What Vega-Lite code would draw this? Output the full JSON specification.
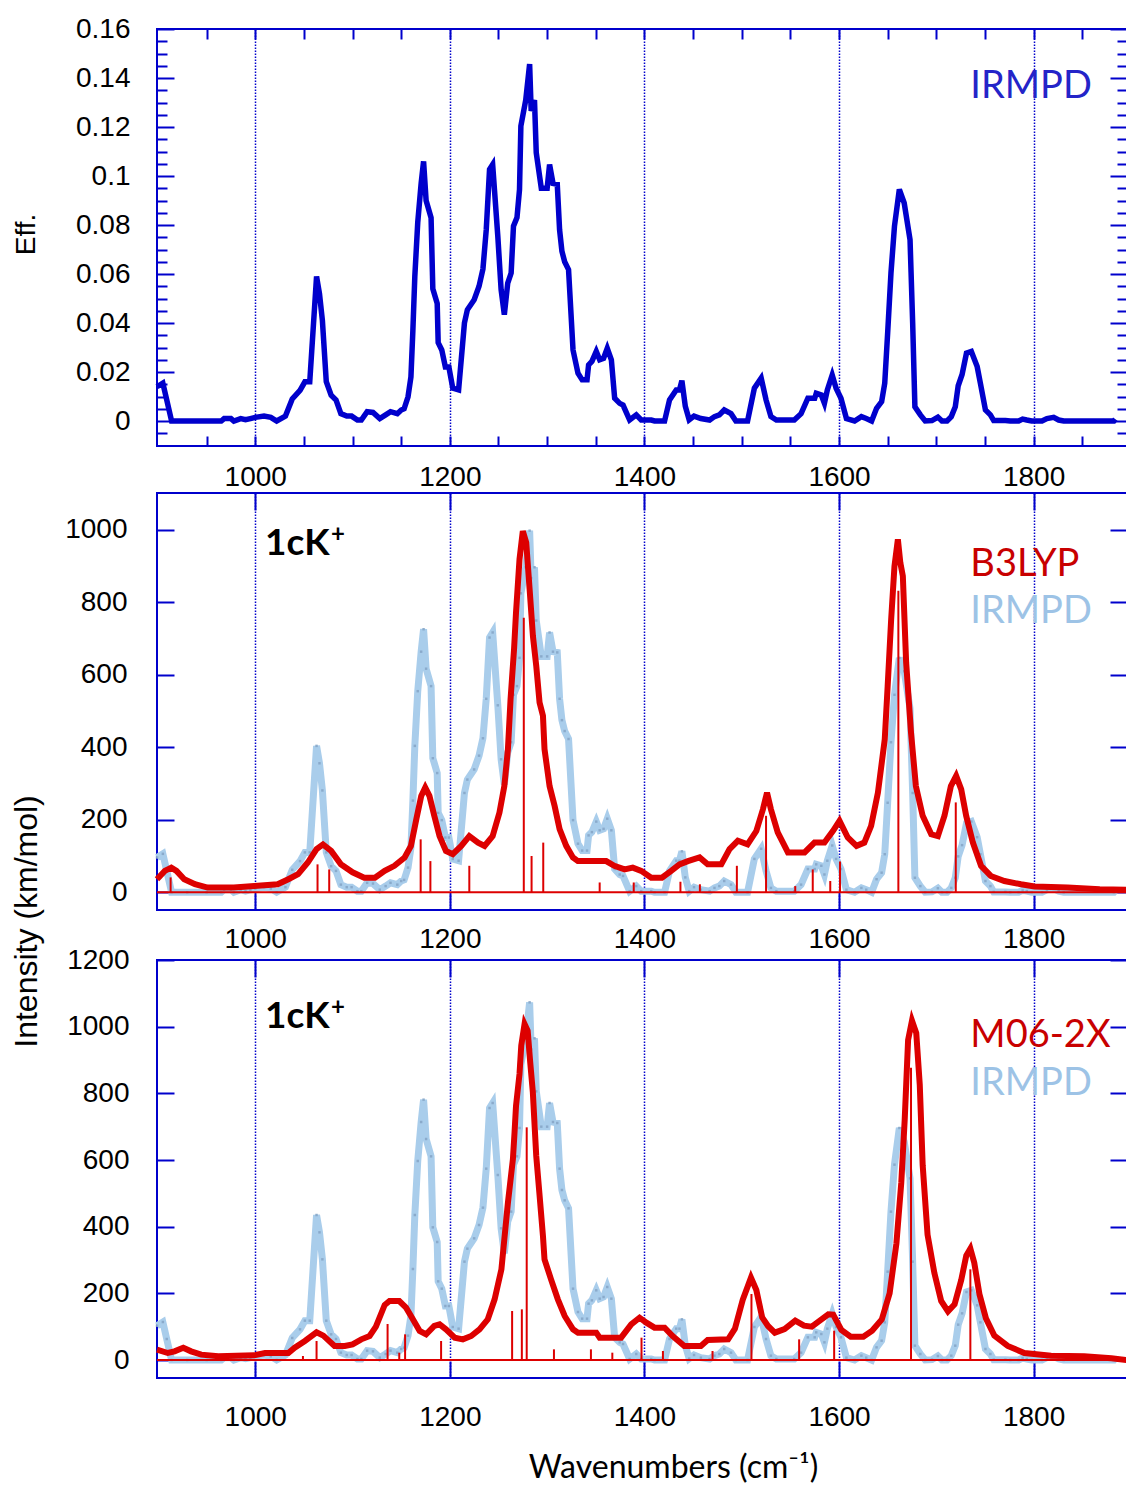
{
"$schema": "https://vega.github.io/schema/vega-lite/v6.json",
"background": "white",
"padding": {"left": 9, "top": 14, "right": 0, "bottom": 0},
"bounds": "flush",
"spacing": 47,
"config": {
  "view": {"stroke": "#0000cc", "strokeWidth": 2},
  "axis": {"domain": false, "grid": false, "labelFont": "Liberation Sans", "labelFontSize": 28, "labelColor": "#000000", "tickColor": "#0000cc", "tickWidth": 2, "gridColor": "#0000cc", "gridDash": [1.5, 1.5], "gridWidth": 1.5, "titleFont": "Liberation Sans", "titleFontSize": 28, "titleFontWeight": "normal", "titleColor": "#000000", "labelOverlap": false, "labelFlush": false, "labelBound": false}
},
"datasets": {
"ir": [
{"wn":899,"eff":0.014,"b3":96,"m06":103},{"wn":905,"eff":0.0155,"b3":106,"m06":114},{"wn":909,"eff":0.0086,"b3":59,"m06":63},{"wn":914,"eff":0,"b3":0,"m06":0},{"wn":930,"eff":0,"b3":0,"m06":0},{"wn":950,"eff":0,"b3":0,"m06":0},{"wn":965,"eff":0,"b3":0,"m06":0},{"wn":968,"eff":0.001,"b3":7,"m06":7},{"wn":975,"eff":0.001,"b3":7,"m06":7},{"wn":978,"eff":0,"b3":0,"m06":0},{"wn":985,"eff":0.001,"b3":7,"m06":7},{"wn":990,"eff":0.0005,"b3":3,"m06":4},{"wn":995,"eff":0.001,"b3":7,"m06":7},{"wn":1000,"eff":0.0015,"b3":10,"m06":11},{"wn":1009,"eff":0.002,"b3":14,"m06":15},{"wn":1016,"eff":0.0015,"b3":10,"m06":11},{"wn":1022,"eff":0,"b3":0,"m06":0},{"wn":1031,"eff":0.002,"b3":14,"m06":15},{"wn":1038,"eff":0.009,"b3":62,"m06":66},{"wn":1046,"eff":0.0125,"b3":86,"m06":92},{"wn":1051,"eff":0.016,"b3":110,"m06":118},{"wn":1056,"eff":0.016,"b3":110,"m06":118},{"wn":1063,"eff":0.059,"b3":404,"m06":435},{"wn":1066,"eff":0.052,"b3":356,"m06":383},{"wn":1069,"eff":0.041,"b3":281,"m06":302},{"wn":1073,"eff":0.016,"b3":110,"m06":118},{"wn":1078,"eff":0.0105,"b3":72,"m06":77},{"wn":1083,"eff":0.0086,"b3":59,"m06":63},{"wn":1088,"eff":0.003,"b3":21,"m06":22},{"wn":1094,"eff":0.002,"b3":14,"m06":15},{"wn":1099,"eff":0.002,"b3":14,"m06":15},{"wn":1105,"eff":0.0004,"b3":3,"m06":3},{"wn":1109,"eff":0.0004,"b3":3,"m06":3},{"wn":1115,"eff":0.0038,"b3":26,"m06":28},{"wn":1121,"eff":0.0035,"b3":24,"m06":26},{"wn":1128,"eff":0.001,"b3":7,"m06":7},{"wn":1134,"eff":0.0025,"b3":17,"m06":18},{"wn":1139,"eff":0.0038,"b3":26,"m06":28},{"wn":1146,"eff":0.003,"b3":21,"m06":22},{"wn":1150,"eff":0.0045,"b3":31,"m06":33},{"wn":1153,"eff":0.005,"b3":34,"m06":37},{"wn":1157,"eff":0.0099,"b3":68,"m06":73},{"wn":1160,"eff":0.018,"b3":123,"m06":133},{"wn":1162,"eff":0.037,"b3":253,"m06":273},{"wn":1164,"eff":0.059,"b3":404,"m06":435},{"wn":1167,"eff":0.081,"b3":555,"m06":597},{"wn":1170.5,"eff":0.097,"b3":664,"m06":714},{"wn":1173,"eff":0.106,"b3":726,"m06":781},{"wn":1175.6,"eff":0.09,"b3":617,"m06":663},{"wn":1180.7,"eff":0.083,"b3":569,"m06":611},{"wn":1182.5,"eff":0.054,"b3":370,"m06":398},{"wn":1187,"eff":0.048,"b3":329,"m06":354},{"wn":1188,"eff":0.032,"b3":219,"m06":236},{"wn":1191.7,"eff":0.029,"b3":199,"m06":214},{"wn":1195.4,"eff":0.022,"b3":151,"m06":162},{"wn":1199,"eff":0.022,"b3":151,"m06":162},{"wn":1203,"eff":0.0134,"b3":92,"m06":99},{"wn":1209,"eff":0.0127,"b3":87,"m06":94},{"wn":1215,"eff":0.04,"b3":274,"m06":295},{"wn":1218,"eff":0.0454,"b3":311,"m06":334},{"wn":1225,"eff":0.0495,"b3":339,"m06":365},{"wn":1230,"eff":0.055,"b3":377,"m06":405},{"wn":1234,"eff":0.062,"b3":425,"m06":457},{"wn":1237.4,"eff":0.078,"b3":534,"m06":574},{"wn":1240.8,"eff":0.1027,"b3":703,"m06":756},{"wn":1244,"eff":0.1047,"b3":717,"m06":771},{"wn":1249.3,"eff":0.0754,"b3":516,"m06":555},{"wn":1252.7,"eff":0.0536,"b3":367,"m06":395},{"wn":1256,"eff":0.0434,"b3":297,"m06":320},{"wn":1259.5,"eff":0.0563,"b3":386,"m06":415},{"wn":1263,"eff":0.0604,"b3":414,"m06":445},{"wn":1265.4,"eff":0.0795,"b3":545,"m06":586},{"wn":1269,"eff":0.083,"b3":569,"m06":611},{"wn":1271.6,"eff":0.0945,"b3":647,"m06":696},{"wn":1273,"eff":0.1204,"b3":825,"m06":887},{"wn":1278,"eff":0.131,"b3":897,"m06":965},{"wn":1282,"eff":0.1457,"b3":998,"m06":1073},{"wn":1283.6,"eff":0.1266,"b3":867,"m06":932},{"wn":1287,"eff":0.131,"b3":897,"m06":965},{"wn":1288.8,"eff":0.1095,"b3":750,"m06":806},{"wn":1294,"eff":0.095,"b3":651,"m06":700},{"wn":1300,"eff":0.095,"b3":651,"m06":700},{"wn":1302.5,"eff":0.1047,"b3":717,"m06":771},{"wn":1306,"eff":0.097,"b3":664,"m06":714},{"wn":1310.4,"eff":0.0966,"b3":662,"m06":711},{"wn":1312.8,"eff":0.078,"b3":534,"m06":574},{"wn":1315.2,"eff":0.0693,"b3":475,"m06":510},{"wn":1318,"eff":0.065,"b3":445,"m06":479},{"wn":1322,"eff":0.0618,"b3":423,"m06":455},{"wn":1326.6,"eff":0.029,"b3":199,"m06":214},{"wn":1331.7,"eff":0.0195,"b3":134,"m06":144},{"wn":1336,"eff":0.0168,"b3":115,"m06":124},{"wn":1341,"eff":0.0168,"b3":115,"m06":124},{"wn":1342.6,"eff":0.0229,"b3":157,"m06":169},{"wn":1346,"eff":0.0243,"b3":166,"m06":179},{"wn":1350.5,"eff":0.0284,"b3":195,"m06":209},{"wn":1354,"eff":0.025,"b3":171,"m06":184},{"wn":1358,"eff":0.0256,"b3":175,"m06":189},{"wn":1361.8,"eff":0.0297,"b3":203,"m06":219},{"wn":1366,"eff":0.025,"b3":171,"m06":184},{"wn":1369.4,"eff":0.0093,"b3":64,"m06":68},{"wn":1374.6,"eff":0.0072,"b3":49,"m06":53},{"wn":1378,"eff":0.0065,"b3":45,"m06":48},{"wn":1384.8,"eff":0.0004,"b3":3,"m06":3},{"wn":1391.6,"eff":0.0025,"b3":17,"m06":18},{"wn":1396.7,"eff":0.0004,"b3":3,"m06":3},{"wn":1407,"eff":0.0004,"b3":3,"m06":3},{"wn":1410.4,"eff":0,"b3":0,"m06":0},{"wn":1420.7,"eff":0,"b3":0,"m06":0},{"wn":1425.8,"eff":0.0086,"b3":59,"m06":63},{"wn":1432.7,"eff":0.0127,"b3":87,"m06":94},{"wn":1436,"eff":0.0127,"b3":87,"m06":94},{"wn":1438.5,"eff":0.0165,"b3":113,"m06":122},{"wn":1442,"eff":0.006,"b3":41,"m06":44},{"wn":1446,"eff":0.0005,"b3":3,"m06":4},{"wn":1451,"eff":0.002,"b3":14,"m06":15},{"wn":1458,"eff":0.001,"b3":7,"m06":7},{"wn":1467,"eff":0.0004,"b3":3,"m06":3},{"wn":1472,"eff":0.0018,"b3":12,"m06":13},{"wn":1477,"eff":0.0025,"b3":17,"m06":18},{"wn":1482,"eff":0.0045,"b3":31,"m06":33},{"wn":1489,"eff":0.003,"b3":21,"m06":22},{"wn":1494,"eff":0,"b3":0,"m06":0},{"wn":1506,"eff":0,"b3":0,"m06":0},{"wn":1513,"eff":0.0134,"b3":92,"m06":99},{"wn":1520,"eff":0.0175,"b3":120,"m06":129},{"wn":1525,"eff":0.0086,"b3":59,"m06":63},{"wn":1530,"eff":0.0018,"b3":12,"m06":13},{"wn":1535.6,"eff":0.0004,"b3":3,"m06":3},{"wn":1554,"eff":0.0004,"b3":3,"m06":3},{"wn":1561,"eff":0.003,"b3":21,"m06":22},{"wn":1568,"eff":0.0093,"b3":64,"m06":68},{"wn":1575,"eff":0.0093,"b3":64,"m06":68},{"wn":1576.6,"eff":0.0113,"b3":77,"m06":83},{"wn":1581.8,"eff":0.0106,"b3":73,"m06":78},{"wn":1585,"eff":0.0072,"b3":49,"m06":53},{"wn":1588,"eff":0.0127,"b3":87,"m06":94},{"wn":1593,"eff":0.0188,"b3":129,"m06":138},{"wn":1597,"eff":0.0134,"b3":92,"m06":99},{"wn":1602,"eff":0.0093,"b3":64,"m06":68},{"wn":1607.6,"eff":0.001,"b3":7,"m06":7},{"wn":1616,"eff":0,"b3":0,"m06":0},{"wn":1623,"eff":0.0018,"b3":12,"m06":13},{"wn":1628,"eff":0.001,"b3":7,"m06":7},{"wn":1633.5,"eff":0,"b3":0,"m06":0},{"wn":1638.6,"eff":0.0052,"b3":36,"m06":38},{"wn":1643.8,"eff":0.0079,"b3":54,"m06":58},{"wn":1647,"eff":0.0154,"b3":105,"m06":113},{"wn":1650,"eff":0.036,"b3":247,"m06":265},{"wn":1653.4,"eff":0.0604,"b3":414,"m06":445},{"wn":1657,"eff":0.0795,"b3":545,"m06":586},{"wn":1662,"eff":0.0945,"b3":647,"m06":696},{"wn":1667,"eff":0.089,"b3":610,"m06":655},{"wn":1673,"eff":0.074,"b3":507,"m06":545},{"wn":1675.7,"eff":0.04,"b3":274,"m06":295},{"wn":1678,"eff":0.0058,"b3":40,"m06":43},{"wn":1683.6,"eff":0.0025,"b3":17,"m06":18},{"wn":1688.6,"eff":0,"b3":0,"m06":0},{"wn":1695.5,"eff":0.0002,"b3":1,"m06":1},{"wn":1701.6,"eff":0.0016,"b3":11,"m06":12},{"wn":1705.8,"eff":0,"b3":0,"m06":0},{"wn":1711,"eff":0,"b3":0,"m06":0},{"wn":1715.4,"eff":0.0018,"b3":12,"m06":13},{"wn":1719.5,"eff":0.0058,"b3":40,"m06":43},{"wn":1722.5,"eff":0.0144,"b3":99,"m06":106},{"wn":1726.5,"eff":0.019,"b3":130,"m06":140},{"wn":1731,"eff":0.0277,"b3":190,"m06":204},{"wn":1736,"eff":0.0284,"b3":195,"m06":209},{"wn":1742,"eff":0.0222,"b3":152,"m06":164},{"wn":1745.3,"eff":0.0154,"b3":105,"m06":113},{"wn":1750.5,"eff":0.0045,"b3":31,"m06":33},{"wn":1755.6,"eff":0.0025,"b3":17,"m06":18},{"wn":1759,"eff":0.0002,"b3":1,"m06":1},{"wn":1771,"eff":0.0002,"b3":1,"m06":1},{"wn":1776,"eff":0,"b3":0,"m06":0},{"wn":1784.6,"eff":0,"b3":0,"m06":0},{"wn":1788.7,"eff":0.0008,"b3":5,"m06":6},{"wn":1793,"eff":0.0004,"b3":3,"m06":3},{"wn":1798,"eff":0,"b3":0,"m06":0},{"wn":1808.6,"eff":0,"b3":0,"m06":0},{"wn":1813.7,"eff":0.001,"b3":7,"m06":7},{"wn":1820.6,"eff":0.0015,"b3":10,"m06":11},{"wn":1825.8,"eff":0.0004,"b3":3,"m06":3},{"wn":1831,"eff":0,"b3":0,"m06":0},{"wn":1882.5,"eff":0,"b3":0,"m06":0},{"wn":1884,"eff":0.0008,"b3":5,"m06":6}
],
"b3": [
{"wn":899,"i":36},{"wn":907,"i":59},{"wn":913.7,"i":68},{"wn":919,"i":59},{"wn":927,"i":36},{"wn":938,"i":22},{"wn":951,"i":13},{"wn":978,"i":13},{"wn":999,"i":17},{"wn":1023,"i":22},{"wn":1034,"i":36},{"wn":1044,"i":50},{"wn":1054,"i":82},{"wn":1063,"i":119},{"wn":1069.6,"i":132},{"wn":1078,"i":114},{"wn":1088,"i":77},{"wn":1100,"i":55},{"wn":1112,"i":40},{"wn":1123,"i":40},{"wn":1133,"i":59},{"wn":1143,"i":73},{"wn":1153.5,"i":96},{"wn":1160,"i":128},{"wn":1165.5,"i":201},{"wn":1170.6,"i":266},{"wn":1174.7,"i":289},{"wn":1179,"i":266},{"wn":1184,"i":211},{"wn":1189.4,"i":155},{"wn":1196,"i":114},{"wn":1203,"i":105},{"wn":1211.7,"i":128},{"wn":1220,"i":155},{"wn":1229,"i":137},{"wn":1235.7,"i":128},{"wn":1244,"i":155},{"wn":1251,"i":220},{"wn":1256,"i":293},{"wn":1259.7,"i":395},{"wn":1262.4,"i":533},{"wn":1266,"i":671},{"wn":1268,"i":772},{"wn":1271.6,"i":919},{"wn":1275,"i":997},{"wn":1278.5,"i":965},{"wn":1282,"i":836},{"wn":1285.4,"i":707},{"wn":1288.8,"i":625},{"wn":1292.2,"i":524},{"wn":1295.7,"i":487},{"wn":1297.3,"i":395},{"wn":1302.5,"i":293},{"wn":1307.7,"i":238},{"wn":1312.8,"i":174},{"wn":1319.6,"i":128},{"wn":1326.5,"i":96},{"wn":1331.6,"i":86},{"wn":1360.7,"i":86},{"wn":1369,"i":73},{"wn":1379.6,"i":63},{"wn":1388,"i":68},{"wn":1396.7,"i":59},{"wn":1407,"i":40},{"wn":1418,"i":40},{"wn":1427.5,"i":59},{"wn":1436,"i":77},{"wn":1444.7,"i":86},{"wn":1456.7,"i":96},{"wn":1465,"i":77},{"wn":1479,"i":77},{"wn":1487.5,"i":119},{"wn":1496,"i":142},{"wn":1506,"i":132},{"wn":1515,"i":169},{"wn":1521.8,"i":229},{"wn":1526,"i":275},{"wn":1530,"i":229},{"wn":1537,"i":165},{"wn":1547.5,"i":110},{"wn":1564.6,"i":110},{"wn":1574.8,"i":137},{"wn":1585,"i":137},{"wn":1593.7,"i":169},{"wn":1600.5,"i":197},{"wn":1609,"i":151},{"wn":1618,"i":128},{"wn":1626,"i":137},{"wn":1633,"i":183},{"wn":1640,"i":275},{"wn":1647,"i":422},{"wn":1650,"i":569},{"wn":1653.6,"i":753},{"wn":1657,"i":900},{"wn":1660.5,"i":974},{"wn":1663,"i":910},{"wn":1665.6,"i":873},{"wn":1669,"i":634},{"wn":1674,"i":441},{"wn":1679,"i":293},{"wn":1686,"i":211},{"wn":1694.8,"i":160},{"wn":1701.6,"i":155},{"wn":1708.4,"i":211},{"wn":1715,"i":293},{"wn":1720.4,"i":321},{"wn":1725.6,"i":284},{"wn":1730.7,"i":211},{"wn":1737.6,"i":137},{"wn":1746,"i":73},{"wn":1756,"i":45},{"wn":1770,"i":31},{"wn":1787,"i":22},{"wn":1801,"i":16},{"wn":1835,"i":13},{"wn":1868,"i":8},{"wn":1896,"i":7}
],
"b3s": [
{"wn":913,"i":41},{"wn":1064,"i":77},{"wn":1076,"i":63},{"wn":1170,"i":146},{"wn":1180,"i":86},{"wn":1220,"i":73},{"wn":1276,"i":758},{"wn":1284,"i":100},{"wn":1296,"i":137},{"wn":1354,"i":27},{"wn":1389,"i":27},{"wn":1437,"i":29},{"wn":1457,"i":22},{"wn":1495,"i":73},{"wn":1525,"i":211},{"wn":1555,"i":17},{"wn":1573,"i":63},{"wn":1591,"i":31},{"wn":1601,"i":85},{"wn":1661,"i":832},{"wn":1720,"i":248}
],
"m06": [
{"wn":899,"i":31},{"wn":910,"i":21},{"wn":917,"i":26},{"wn":926,"i":37},{"wn":934,"i":26},{"wn":944.5,"i":16},{"wn":962,"i":11},{"wn":999,"i":14},{"wn":1010,"i":21},{"wn":1034,"i":21},{"wn":1040.5,"i":37},{"wn":1051,"i":57},{"wn":1063,"i":83},{"wn":1070,"i":73},{"wn":1081.5,"i":42},{"wn":1092,"i":42},{"wn":1100,"i":47},{"wn":1109,"i":62},{"wn":1117.5,"i":72},{"wn":1124,"i":100},{"wn":1133,"i":165},{"wn":1138,"i":177},{"wn":1148,"i":177},{"wn":1155,"i":157},{"wn":1162,"i":122},{"wn":1169,"i":87},{"wn":1175.6,"i":77},{"wn":1184,"i":102},{"wn":1189.5,"i":107},{"wn":1196,"i":92},{"wn":1205,"i":67},{"wn":1213.4,"i":62},{"wn":1222,"i":72},{"wn":1230.5,"i":92},{"wn":1239,"i":122},{"wn":1246,"i":182},{"wn":1253,"i":272},{"wn":1256,"i":362},{"wn":1259.7,"i":472},{"wn":1264.8,"i":602},{"wn":1266.5,"i":683},{"wn":1268,"i":762},{"wn":1271.6,"i":858},{"wn":1273.4,"i":943},{"wn":1276.8,"i":1008},{"wn":1280,"i":988},{"wn":1282.6,"i":893},{"wn":1285.3,"i":803},{"wn":1288.8,"i":612},{"wn":1292,"i":502},{"wn":1295.7,"i":372},{"wn":1297.3,"i":302},{"wn":1304,"i":242},{"wn":1311,"i":182},{"wn":1318,"i":132},{"wn":1326.6,"i":92},{"wn":1331.7,"i":82},{"wn":1350.5,"i":82},{"wn":1354,"i":67},{"wn":1376,"i":67},{"wn":1386.4,"i":107},{"wn":1395,"i":127},{"wn":1402,"i":112},{"wn":1410.4,"i":97},{"wn":1420.7,"i":97},{"wn":1429,"i":72},{"wn":1441,"i":42},{"wn":1458,"i":42},{"wn":1465,"i":60},{"wn":1486,"i":62},{"wn":1493,"i":94},{"wn":1501,"i":180},{"wn":1509.5,"i":247},{"wn":1515,"i":210},{"wn":1521,"i":128},{"wn":1527,"i":102},{"wn":1534,"i":82},{"wn":1544,"i":93},{"wn":1555,"i":118},{"wn":1564,"i":103},{"wn":1572,"i":100},{"wn":1582,"i":122},{"wn":1589,"i":137},{"wn":1594,"i":136},{"wn":1602.4,"i":90},{"wn":1612,"i":70},{"wn":1625,"i":70},{"wn":1634,"i":88},{"wn":1644,"i":122},{"wn":1652,"i":200},{"wn":1659,"i":350},{"wn":1664,"i":532},{"wn":1667.5,"i":720},{"wn":1671,"i":960},{"wn":1675,"i":1018},{"wn":1679.4,"i":981},{"wn":1683,"i":825},{"wn":1686,"i":584},{"wn":1691,"i":376},{"wn":1698,"i":261},{"wn":1705,"i":177},{"wn":1712,"i":146},{"wn":1718.8,"i":167},{"wn":1725.6,"i":240},{"wn":1730.8,"i":313},{"wn":1735,"i":334},{"wn":1739,"i":292},{"wn":1744.3,"i":198},{"wn":1751,"i":125},{"wn":1759.6,"i":73},{"wn":1773.4,"i":42},{"wn":1790.5,"i":21},{"wn":1818,"i":13},{"wn":1852,"i":11},{"wn":1880,"i":5},{"wn":1896,"i":0}
],
"m06s": [
{"wn":1049,"i":12},{"wn":1063,"i":57},{"wn":1136,"i":108},{"wn":1148,"i":22},{"wn":1154,"i":77},{"wn":1191,"i":57},{"wn":1264,"i":147},{"wn":1274,"i":152},{"wn":1279,"i":698},{"wn":1307,"i":32},{"wn":1345,"i":32},{"wn":1367,"i":22},{"wn":1397,"i":67},{"wn":1419,"i":27},{"wn":1470,"i":27},{"wn":1510,"i":198},{"wn":1559,"i":62},{"wn":1595,"i":88},{"wn":1674,"i":877},{"wn":1735,"i":272}
]
},
"vconcat": [
{
  "width": 970, "height": 417,
  "layer": [
    {"data": {"name": "ir"}, "mark": {"type": "line", "color": "#0000cc", "strokeWidth": 5.5},
     "encoding": {
       "x": {"field": "wn", "type": "quantitative", "scale": {"domain": [899, 1896], "nice": false, "zero": false},
             "axis": {"orient": "bottom", "values": [950,1000,1050,1100,1150,1200,1250,1300,1350,1400,1450,1500,1550,1600,1650,1700,1750,1800,1850], "labelExpr": "datum.value % 200 === 0 ? format(datum.value, 'd') : ''", "tickSize": -10, "labelPadding": 41, "labelBaseline": "middle", "grid": true, "gridOpacity": {"condition": {"test": "datum.value % 200 === 0", "value": 1}, "value": 0}, "title": null}},
       "y": {"field": "eff", "type": "quantitative", "scale": {"domain": [-0.0102, 0.16], "nice": false, "zero": false},
             "axis": {"orient": "left", "values": [-0.005,0,0.005,0.01,0.015,0.02,0.025,0.03,0.035,0.04,0.045,0.05,0.055,0.06,0.065,0.07,0.075,0.08,0.085,0.09,0.095,0.1,0.105,0.11,0.115,0.12,0.125,0.13,0.135,0.14,0.145,0.15,0.155,0.16],
                      "labelExpr": "abs(datum.value*50 - round(datum.value*50)) < 0.001 ? format(datum.value, '~g') : ''",
                      "tickSize": {"condition": {"test": "abs(datum.value*50 - round(datum.value*50)) < 0.001", "value": -17}, "value": -10},
                      "labelPadding": 44, "title": "Eff.", "titleX": -131, "titleY": 205, "titleAngle": -90, "titleAlign": "center", "titleBaseline": "middle"}}
     }},
    {"data": {"values": [{"t": "IRMPD"}]}, "mark": {"type": "text", "font": "Lato", "fontSize": 38, "align": "left", "baseline": "middle", "color": "#2424c8"},
     "encoding": {
       "x": {"datum": 1735, "axis": {"orient": "top", "values": [950,1000,1050,1100,1150,1200,1250,1300,1350,1400,1450,1500,1550,1600,1650,1700,1750,1800,1850], "tickSize": -10, "labels": false, "grid": false, "title": null}},
       "y": {"datum": 0.1362, "axis": {"orient": "right", "values": [-0.005,0,0.005,0.01,0.015,0.02,0.025,0.03,0.035,0.04,0.045,0.05,0.055,0.06,0.065,0.07,0.075,0.08,0.085,0.09,0.095,0.1,0.105,0.11,0.115,0.12,0.125,0.13,0.135,0.14,0.145,0.15,0.155,0.16], "tickSize": {"condition": {"test": "abs(datum.value*50 - round(datum.value*50)) < 0.001", "value": -17}, "value": -10}, "labels": false, "title": null}},
       "text": {"field": "t"}
     }}
  ],
  "resolve": {"axis": {"x": "independent", "y": "independent"}}
},
{
  "bounds": "flush",
  "spacing": 50,
  "vconcat": [
  {
    "width": 970, "height": 417,
    "layer": [
      {"data": {"name": "ir"}, "mark": {"type": "line", "color": "#a9cdeb", "strokeWidth": 7},
       "encoding": {
         "x": {"field": "wn", "type": "quantitative", "scale": {"domain": [899, 1896], "nice": false, "zero": false},
               "axis": {"orient": "bottom", "values": [1000,1200,1400,1600,1800], "format": "d", "tickSize": -17, "labelPadding": 46, "labelBaseline": "middle", "grid": true, "title": null}},
         "y": {"field": "b3", "type": "quantitative", "scale": {"domain": [-49, 1102], "nice": false, "zero": false},
               "axis": {"orient": "left", "values": [0,200,400,600,800,1000], "format": "d", "tickSize": -17, "labelPadding": 47, "title": "Intensity (km/mol)", "titleFontSize": 32, "titleX": -131, "titleY": 428, "titleAngle": -90, "titleAlign": "center", "titleBaseline": "middle"}}
       }},
      {"data": {"name": "ir"}, "mark": {"type": "point", "shape": "square", "size": 6, "filled": true, "color": "#86a6c8", "opacity": 0.9},
       "encoding": {"x": {"field": "wn", "type": "quantitative", "axis": null}, "y": {"field": "b3", "type": "quantitative", "axis": null}}},
      {"data": {"name": "b3"}, "mark": {"type": "line", "color": "#dd0000", "strokeWidth": 6},
       "encoding": {
         "x": {"field": "wn", "type": "quantitative", "axis": {"orient": "top", "values": [1000,1200,1400,1600,1800], "tickSize": -17, "labels": false, "grid": false, "title": null}},
         "y": {"field": "i", "type": "quantitative", "axis": {"orient": "right", "values": [0,200,400,600,800,1000], "tickSize": -17, "labels": false, "title": null}}
       }},
      {"data": {"name": "b3s"}, "mark": {"type": "rule", "color": "#dd0000", "strokeWidth": 2},
       "encoding": {"x": {"field": "wn", "type": "quantitative", "axis": null}, "y": {"field": "i", "type": "quantitative", "axis": null}, "y2": {"datum": 0}}},
      {"data": {"values": [{}]}, "mark": {"type": "rule", "color": "#dd0000", "strokeWidth": 2},
       "encoding": {"y": {"datum": 0, "axis": null}}},
      {"data": {"values": [{"t": "1cK"}]}, "mark": {"type": "text", "font": "Lato", "fontWeight": "bold", "fontSize": 37, "align": "left", "baseline": "middle", "color": "#000000"},
       "encoding": {"x": {"datum": 1010, "axis": null}, "y": {"datum": 960, "axis": null}, "text": {"field": "t"}}},
      {"data": {"values": [{"t": "+"}]}, "mark": {"type": "text", "font": "Lato", "fontWeight": "bold", "fontSize": 24, "align": "center", "baseline": "middle", "color": "#000000"},
       "encoding": {"x": {"datum": 1085, "axis": null}, "y": {"datum": 985, "axis": null}, "text": {"field": "t"}}},
      {"data": {"values": [{"t": "B3LYP"}]}, "mark": {"type": "text", "font": "Lato", "fontSize": 38, "align": "left", "baseline": "middle", "color": "#c80000"},
       "encoding": {"x": {"datum": 1735, "axis": null}, "y": {"datum": 902, "axis": null}, "text": {"field": "t"}}},
      {"data": {"values": [{"t": "IRMPD"}]}, "mark": {"type": "text", "font": "Lato", "fontSize": 38, "align": "left", "baseline": "middle", "color": "#9dc3e6"},
       "encoding": {"x": {"datum": 1735, "axis": null}, "y": {"datum": 774, "axis": null}, "text": {"field": "t"}}}
    ],
    "resolve": {"axis": {"x": "independent", "y": "independent"}}
  },
  {
    "width": 970, "height": 418,
    "layer": [
      {"data": {"name": "ir"}, "mark": {"type": "line", "color": "#a9cdeb", "strokeWidth": 7},
       "encoding": {
         "x": {"field": "wn", "type": "quantitative", "scale": {"domain": [899, 1896], "nice": false, "zero": false},
               "axis": {"orient": "bottom", "values": [1000,1200,1400,1600,1800], "format": "d", "tickSize": -17, "labelPadding": 56, "labelBaseline": "middle", "grid": true, "title": "Wavenumbers (cm⁻¹)", "titleFont": "Lato", "titleFontSize": 32, "titleX": 516, "titleY": 89, "titleAlign": "center", "titleBaseline": "middle"}},
         "y": {"field": "m06", "type": "quantitative", "scale": {"domain": [-54, 1200], "nice": false, "zero": false},
               "axis": {"orient": "left", "values": [0,200,400,600,800,1000,1200], "format": "d", "tickSize": -17, "labelPadding": 45, "title": null}}
       }},
      {"data": {"name": "ir"}, "mark": {"type": "point", "shape": "square", "size": 6, "filled": true, "color": "#86a6c8", "opacity": 0.9},
       "encoding": {"x": {"field": "wn", "type": "quantitative", "axis": null}, "y": {"field": "m06", "type": "quantitative", "axis": null}}},
      {"data": {"name": "m06"}, "mark": {"type": "line", "color": "#dd0000", "strokeWidth": 6},
       "encoding": {
         "x": {"field": "wn", "type": "quantitative", "axis": {"orient": "top", "values": [1000,1200,1400,1600,1800], "tickSize": -17, "labels": false, "grid": false, "title": null}},
         "y": {"field": "i", "type": "quantitative", "axis": {"orient": "right", "values": [0,200,400,600,800,1000,1200], "tickSize": -17, "labels": false, "title": null}}
       }},
      {"data": {"name": "m06s"}, "mark": {"type": "rule", "color": "#dd0000", "strokeWidth": 2},
       "encoding": {"x": {"field": "wn", "type": "quantitative", "axis": null}, "y": {"field": "i", "type": "quantitative", "axis": null}, "y2": {"datum": 0}}},
      {"data": {"values": [{}]}, "mark": {"type": "rule", "color": "#dd0000", "strokeWidth": 2},
       "encoding": {"y": {"datum": 0, "axis": null}}},
      {"data": {"values": [{"t": "1cK"}]}, "mark": {"type": "text", "font": "Lato", "fontWeight": "bold", "fontSize": 37, "align": "left", "baseline": "middle", "color": "#000000"},
       "encoding": {"x": {"datum": 1010, "axis": null}, "y": {"datum": 1029, "axis": null}, "text": {"field": "t"}}},
      {"data": {"values": [{"t": "+"}]}, "mark": {"type": "text", "font": "Lato", "fontWeight": "bold", "fontSize": 24, "align": "center", "baseline": "middle", "color": "#000000"},
       "encoding": {"x": {"datum": 1085, "axis": null}, "y": {"datum": 1055, "axis": null}, "text": {"field": "t"}}},
      {"data": {"values": [{"t": "M06-2X"}]}, "mark": {"type": "text", "font": "Lato", "fontSize": 38, "align": "left", "baseline": "middle", "color": "#c80000"},
       "encoding": {"x": {"datum": 1735, "axis": null}, "y": {"datum": 972, "axis": null}, "text": {"field": "t"}}},
      {"data": {"values": [{"t": "IRMPD"}]}, "mark": {"type": "text", "font": "Lato", "fontSize": 38, "align": "left", "baseline": "middle", "color": "#9dc3e6"},
       "encoding": {"x": {"datum": 1735, "axis": null}, "y": {"datum": 828, "axis": null}, "text": {"field": "t"}}}
    ],
    "resolve": {"axis": {"x": "independent", "y": "independent"}}
  }
  ]
}
]
}
